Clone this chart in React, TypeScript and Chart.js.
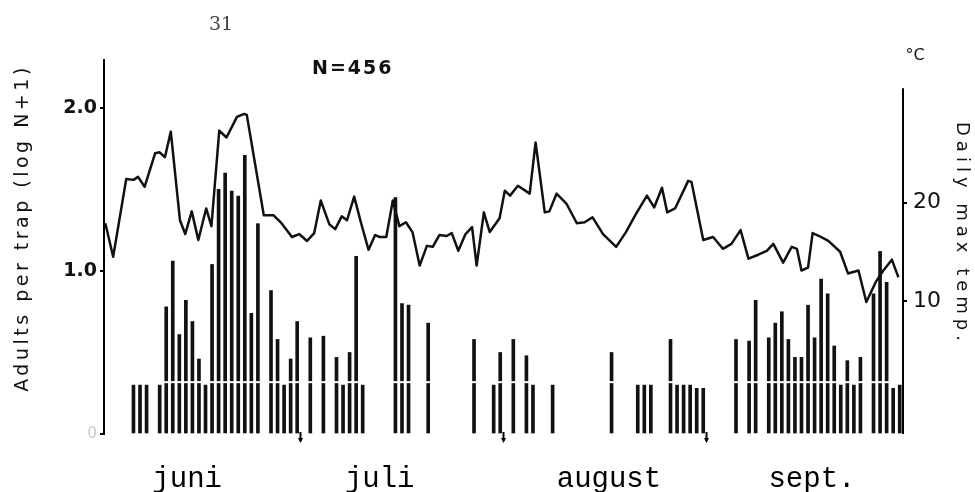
import React, { useEffect, useRef } from 'react';
import { Chart, registerables } from 'chart.js';

Chart.register(...registerables);

// x axis: days counted from 1 June (0) to 1 October (122)
const monthNames = ['juni', 'juli', 'august', 'sept.'];
const monthLabelDays = [12.7, 42.1, 77.1, 108.1];
const monthLengths = [30, 31, 31, 30];

// Adults per trap, log(N+1), one bar per catch day
const catchDays = [
  4, 5, 6, 8, 9, 10, 11, 12, 13, 14, 15, 16, 17, 18, 19, 20, 21, 22, 23, 25, 26, 27, 28, 29, 31,
  33, 35, 36, 37, 38, 39, 44, 45, 46, 49, 56, 59, 60, 62, 64, 65, 68, 77, 81, 82, 83,
  86, 87, 88, 89, 90, 91, 96, 98, 99, 101, 102, 103, 104, 105, 106, 107, 108, 109, 110, 111,
  112, 113, 114, 115, 117, 118, 119, 120, 121,
];
const catchLogValues = [
  0.30, 0.30, 0.30, 0.30, 0.78, 1.06, 0.61, 0.82, 0.69, 0.46, 0.30, 1.04, 1.50, 1.60, 1.49, 1.46, 1.71, 0.74, 1.29, 0.88, 0.58, 0.30, 0.46, 0.69, 0.59,
  0.60, 0.47, 0.30, 0.50, 1.09, 0.30, 1.45, 0.80, 0.79, 0.68, 0.58, 0.30, 0.50, 0.58, 0.48, 0.30, 0.30, 0.50, 0.30, 0.30, 0.30,
  0.58, 0.30, 0.30, 0.30, 0.28, 0.28, 0.58, 0.57, 0.82, 0.59, 0.68, 0.75, 0.58, 0.47, 0.47, 0.79, 0.59, 0.95, 0.86, 0.54,
  0.30, 0.45, 0.30, 0.47, 0.86, 1.12, 0.93, 0.28, 0.30,
];

// Daily max temperature (°C)
const tempDays = [
  0.2, 1.4, 3.4, 4.5, 5.2, 6.2, 7.8, 8.5, 9.3, 10.2, 11.6, 12.4, 13.4, 14.4, 15.6, 16.4, 17.6, 18.7, 20.3, 21.4, 21.8,
  24.4, 25.9, 27.1, 28.7, 29.8, 31.0, 32.1, 33.1, 34.4, 35.3, 36.3, 37.1, 38.2, 39.3, 40.4, 41.4, 42.1, 43.1, 44.1,
  45.1, 46.1, 47.1, 48.2, 49.3, 50.2, 51.2, 52.3, 53.1, 54.1, 55.2, 56.2, 56.9, 58.0, 58.9, 60.4, 61.2, 62.0, 63.2,
  65.0, 65.9, 67.3, 68.0, 69.1, 70.6, 72.2, 73.4, 74.6, 76.2, 78.2, 79.7, 81.1, 82.9, 84.0, 85.2, 86.0, 87.2, 89.2, 89.7,
  91.5, 93.0, 94.5, 95.8, 97.2, 98.4, 99.9, 101.2, 102.2, 103.7, 105.0, 105.8, 106.5, 107.5, 108.2, 109.2, 110.6,
  112.4, 113.6, 115.2, 116.4, 117.9, 119.0, 120.3, 121.3,
];
const tempValues = [
  17.9, 14.5, 22.4, 22.3, 22.6, 21.6, 25.0, 25.1, 24.6, 27.2, 18.2, 16.8, 19.1, 16.2, 19.4, 17.6, 27.3, 26.6, 28.7, 29.0, 28.9,
  18.7, 18.7, 17.9, 16.5, 16.8, 16.1, 16.9, 20.2, 17.8, 17.3, 18.6, 18.2, 20.6, 17.8, 15.2, 16.7, 16.5, 16.5, 20.2,
  17.6, 18.0, 17.0, 13.6, 15.6, 15.5, 16.7, 16.6, 16.9, 15.1, 16.8, 17.5, 13.6, 19.0, 17.0, 18.4, 21.2, 20.7, 21.7,
  20.9, 26.1, 19.0, 19.1, 20.9, 19.9, 17.9, 18.0, 18.5, 16.8, 15.5, 17.0, 18.7, 20.7, 19.5, 21.5, 19.0, 19.4, 22.2, 22.1,
  16.2, 16.5, 15.3, 15.8, 17.2, 14.3, 14.7, 15.1, 15.8, 13.9, 15.5, 15.3, 13.1, 13.4, 16.9, 16.6, 16.1,
  15.0, 12.8, 13.1, 9.9, 12.0, 13.1, 14.2, 12.4,
];

const leftTicks = [0, 1, 2];
const leftTickLabels = ['0', '1.0', '2.0'];
const rightTicks = [10, 20];
const rightTickLabels = ['10', '20'];

const decor = {
  id: 'decor',
  afterDatasetsDraw(chart: any) {
    const { ctx, chartArea, scales } = chart;
    // break line across the bars (as in the printed figure)
    const yb = scales.y.getPixelForValue(0.318);
    ctx.save();
    ctx.fillStyle = '#fff';
    ctx.fillRect(chartArea.left + 3, yb - 1, chartArea.right - chartArea.left - 6, 2);
    ctx.restore();
  },
  afterDraw(chart: any) {
    const { ctx, chartArea, scales } = chart;
    ctx.save();
    // right axis line
    ctx.strokeStyle = '#000';
    ctx.lineWidth = 2;
    ctx.beginPath();
    ctx.moveTo(chartArea.right, scales.yT.getPixelForValue(31.6));
    ctx.lineTo(chartArea.right, chartArea.bottom);
    ctx.stroke();
    // month boundary marks below baseline
    let acc = 0;
    for (let i = 0; i < monthLengths.length - 1; i++) {
      acc += monthLengths[i];
      const px = scales.x.getPixelForValue(acc);
      ctx.beginPath();
      ctx.moveTo(px, chartArea.bottom - 2);
      ctx.lineTo(px, chartArea.bottom + 7);
      ctx.lineWidth = 2;
      ctx.stroke();
      ctx.beginPath();
      ctx.moveTo(px - 2.5, chartArea.bottom + 4);
      ctx.lineTo(px + 2.5, chartArea.bottom + 4);
      ctx.lineTo(px, chartArea.bottom + 9);
      ctx.closePath();
      ctx.fillStyle = '#000';
      ctx.fill();
    }
    ctx.fillStyle = '#111';
    // left axis title
    ctx.save();
    ctx.translate(23, 228);
    ctx.rotate(-Math.PI / 2);
    ctx.font = '19px "DejaVu Sans", sans-serif';
    (ctx as any).letterSpacing = '3.5px';
    ctx.textAlign = 'center';
    ctx.textBaseline = 'middle';
    ctx.fillText('Adults per trap (log N+1)', 0, 0);
    ctx.restore();
    // right axis title
    ctx.save();
    ctx.translate(962, 234);
    ctx.rotate(Math.PI / 2);
    ctx.font = '18px "DejaVu Sans", sans-serif';
    (ctx as any).letterSpacing = '5px';
    ctx.textAlign = 'center';
    ctx.textBaseline = 'middle';
    ctx.fillText('Daily max temp.', 0, 0);
    ctx.restore();
    // N
    ctx.save();
    ctx.font = 'bold 19px "DejaVu Sans", sans-serif';
    (ctx as any).letterSpacing = '2px';
    ctx.textAlign = 'left';
    ctx.textBaseline = 'middle';
    ctx.fillText('N=456', 312, 69);
    ctx.restore();
    // unit
    ctx.font = '16px "DejaVu Sans", sans-serif';
    ctx.textAlign = 'center';
    ctx.textBaseline = 'middle';
    ctx.fillText('°C', 915, 56);
    // page number
    ctx.fillStyle = '#444';
    ctx.font = '19px "DejaVu Serif", serif';
    ctx.fillText('31', 221, 25);
    ctx.restore();
  },
};

export default function App() {
  const ref = useRef<HTMLCanvasElement | null>(null);
  useEffect(() => {
    const canvas = ref.current;
    if (!canvas) return;
    const chart = new Chart(canvas, {
      type: 'bar',
      data: {
        datasets: [
          {
            type: 'line',
            data: tempDays.map((d, i) => ({ x: d, y: tempValues[i] })),
            yAxisID: 'yT',
            borderColor: '#111',
            borderWidth: 2.5,
            borderJoinStyle: 'round',
            pointRadius: 0,
            tension: 0,
            order: 0,
          } as any,
          {
            type: 'bar',
            data: catchDays.map((d, i) => ({ x: d + 0.5, y: catchLogValues[i] })),
            yAxisID: 'y',
            backgroundColor: '#111',
            barThickness: 3,
            order: 1,
          } as any,
        ],
      },
      options: {
        responsive: false,
        animation: false,
        layout: { padding: { top: 60, left: 0, right: 0, bottom: 0 } },
        plugins: { legend: { display: false }, tooltip: { enabled: false } },
        scales: {
          x: {
            type: 'linear',
            min: 0,
            max: 122,
            offset: false,
            grid: { display: false },
            border: { display: false },
            afterBuildTicks: (s: any) => {
              s.ticks = monthLabelDays.map((v) => ({ value: v }));
            },
            ticks: {
              autoSkip: false,
              maxRotation: 0,
              padding: 20,
              color: '#000',
              font: { family: '"Liberation Mono", monospace', size: 29 },
              callback: (_v: any, i: number) => monthNames[i],
            },
            afterFit: (s: any) => {
              s.height = 58;
            },
          },
          y: {
            position: 'left',
            min: 0,
            max: 2.294,
            afterBuildTicks: (s: any) => {
              s.ticks = leftTicks.map((v) => ({ value: v }));
            },
            ticks: {
              autoSkip: false,
              padding: 3,
              color: (c: any) => (c.index === 0 ? '#c8c8c8' : '#111'),
              font: (c: any) =>
                c.index === 0
                  ? { family: '"DejaVu Sans", sans-serif', size: 15, weight: 'normal' }
                  : { family: '"DejaVu Sans", sans-serif', size: 19, weight: 'bold' },
              callback: (_v: any, i: number) => leftTickLabels[i],
            },
            grid: { drawOnChartArea: false, drawTicks: true, tickLength: 4, color: '#000', lineWidth: 2 },
            border: { display: true, color: '#000', width: 2 },
            afterFit: (s: any) => {
              s.width = 104;
            },
          },
          yT: {
            position: 'right',
            min: -3.5,
            max: 34.47,
            afterBuildTicks: (s: any) => {
              s.ticks = rightTicks.map((v) => ({ value: v }));
            },
            ticks: {
              autoSkip: false,
              padding: 6,
              color: '#111',
              font: { family: '"DejaVu Sans", sans-serif', size: 22 },
              callback: (_v: any, i: number) => rightTickLabels[i],
            },
            grid: { drawOnChartArea: false, drawTicks: true, tickLength: 4, color: '#000', lineWidth: 2 },
            border: { display: false },
            afterFit: (s: any) => {
              s.width = 72;
            },
          },
        },
      } as any,
      plugins: [decor],
    });
    return () => chart.destroy();
  }, []);
  return (
    <div style={{ position: 'absolute', left: 0, top: 0, width: 975, height: 492, background: '#fff' }}>
      <canvas ref={ref} width={975} height={492} style={{ display: 'block' }} />
    </div>
  );
}
